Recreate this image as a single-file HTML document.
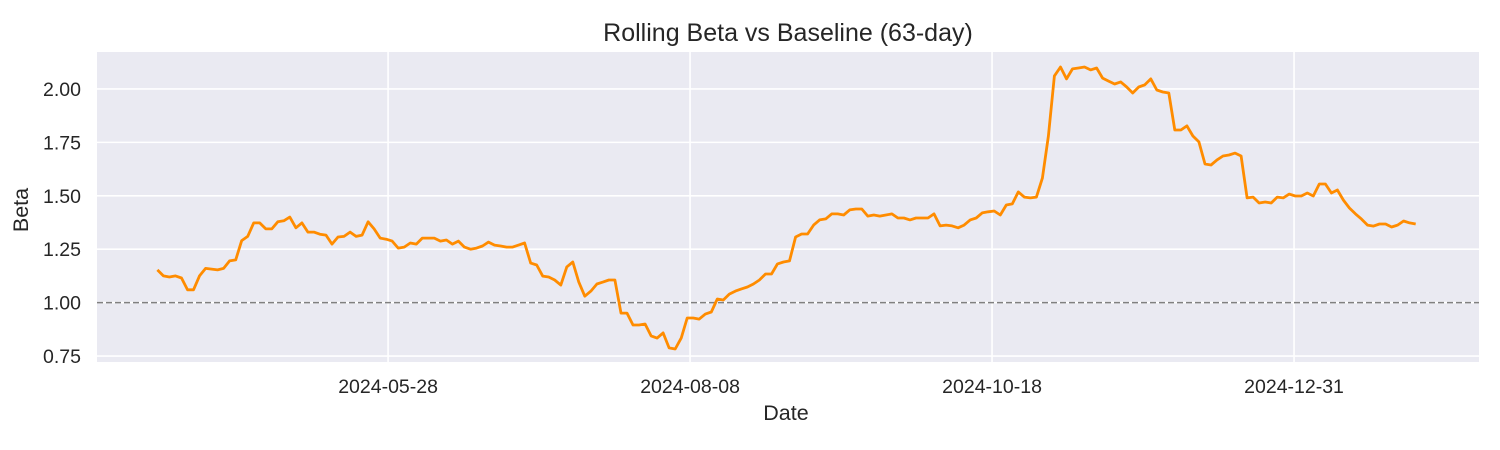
<!DOCTYPE html>
<html><head><meta charset="utf-8"><style>
html,body{margin:0;padding:0;background:#fff;}
svg{display:block;font-family:"Liberation Sans","DejaVu Sans",sans-serif;}
</style></head><body>
<svg id="chart" width="1500" height="450">
<text x="788" y="41" font-size="25" text-anchor="middle" fill="#262626">Rolling Beta vs Baseline (63-day)</text>
<rect x="97" y="52" width="1382" height="310" fill="#eaeaf2"/>
<g id="grid"></g><g id="ticks"></g><g id="series"></g>
<text x="786" y="420" font-size="21.5" text-anchor="middle" fill="#262626">Date</text>
<text x="28" y="210" font-size="21.5" text-anchor="middle" fill="#262626" transform="rotate(-90 28 210)">Beta</text>
</svg>
<script>
const startDate = "2024-04-03";
const endDate = "2025-01-28";
const betaValues = [1.153,1.125,1.12,1.125,1.115,1.06,1.06,1.125,1.16,1.157,1.153,1.16,1.195,1.2,1.29,1.31,1.373,1.373,1.345,1.345,1.378,1.383,1.40,1.35,1.373,1.33,1.33,1.32,1.316,1.274,1.307,1.31,1.33,1.31,1.316,1.378,1.345,1.302,1.297,1.288,1.255,1.26,1.279,1.274,1.302,1.302,1.302,1.288,1.293,1.274,1.288,1.26,1.25,1.255,1.265,1.283,1.269,1.265,1.26,1.26,1.269,1.279,1.185,1.176,
1.124,1.12,1.106,1.082,1.167,1.19,1.096,1.03,1.054,1.087,1.096,1.106,1.106,0.951,0.951,0.895,0.895,0.9,0.844,0.834,0.858,0.788,0.783,0.834,0.928,0.928,0.923,0.946,0.956,1.017,1.012,1.04,1.054,1.064,1.073,1.087,1.106,1.134,1.134,1.181,1.19,1.195,1.307,1.321,1.321,1.363,1.387,1.392,1.415,1.415,1.41,1.434,1.438,1.438,1.405,1.41,1.405,1.41,1.415,1.396,1.396,1.387,1.396,1.396,1.396,1.415,1.359,
1.363,1.359,1.35,1.363,1.387,1.396,1.42,1.425,1.429,1.41,1.457,1.462,1.518,1.494,1.49,1.494,1.583,1.78,2.061,2.103,2.047,2.094,2.098,2.103,2.089,2.098,2.051,2.037,2.023,2.033,2.009,1.981,2.009,2.019,2.047,1.995,1.986,1.981,1.808,1.808,1.827,1.78,1.752,1.649,1.644,1.668,1.686,1.691,1.70,1.686,1.49,1.494,1.466,1.471,1.466,1.494,1.49,1.508,1.499,1.499,1.513,1.499,1.555,1.555,1.513,1.527,1.48,1.443,1.415,1.391,1.363,1.358,1.368,1.368,1.354,1.363,1.382,1.373,1.368];
const yTicks = [0.75,1.00,1.25,1.50,1.75,2.00];
const xTickLabels = ["2024-05-28","2024-08-08","2024-10-18","2024-12-31"];
const xTickDayOffsets = [0,72,144,216];
const baseline = 1.0;

const NS="http://www.w3.org/2000/svg";
const L=97,R=1479,T=52,B=362;
const DAY=86400000;
const ref=Date.parse("2024-05-28");
const xMin=ref-69.4*DAY, xMax=ref+260.1*DAY;
const yMin=0.722, yMax=2.173;
const xs=t=>L+(t-xMin)/(xMax-xMin)*(R-L);
const ys=v=>B-(v-yMin)/(yMax-yMin)*(B-T);
function mk(tag,attrs,parent){const e=document.createElementNS(NS,tag);for(const k in attrs)e.setAttribute(k,attrs[k]);parent.appendChild(e);return e;}
const grid=document.getElementById('grid'),ticks=document.getElementById('ticks'),series=document.getElementById('series');
yTicks.forEach(v=>{
  const y=ys(v);
  const g=mk('line',{x1:L,x2:R,y1:y,y2:y,stroke:'#fff','stroke-width':1.6},grid);
  
  
  const t=mk('text',{x:81,y:y+7,'font-size':19.5,'text-anchor':'end',fill:'#262626'},ticks);
  t.textContent=v.toFixed(2);
  
  
});
xTickLabels.forEach((d,i)=>{
  const x=xs(ref+xTickDayOffsets[i]*DAY);
  const g=mk('line',{x1:x,x2:x,y1:T,y2:B,stroke:'#fff','stroke-width':1.6},grid);
  
  
  const t=mk('text',{x:x,y:393,'font-size':19.5,'text-anchor':'middle',fill:'#262626'},ticks);
  t.textContent=d;
  
  
});
const by=ys(baseline);
const bl=mk('line',{x1:L,x2:R,y1:by,y2:by,stroke:'#808080','stroke-width':1.5,'stroke-dasharray':'6,3'},series);


const s=Date.parse(startDate),e=Date.parse(endDate),n=betaValues.length;
const pts=betaValues.map((v,i)=>{const t=s+(e-s)*i/(n-1);return xs(t).toFixed(1)+','+ys(v).toFixed(1);});
const pl=mk('polyline',{points:pts.join(' '),fill:'none',stroke:'#ff8c00','stroke-width':2.8,'stroke-linejoin':'round'},series);


</script>
</body></html>
